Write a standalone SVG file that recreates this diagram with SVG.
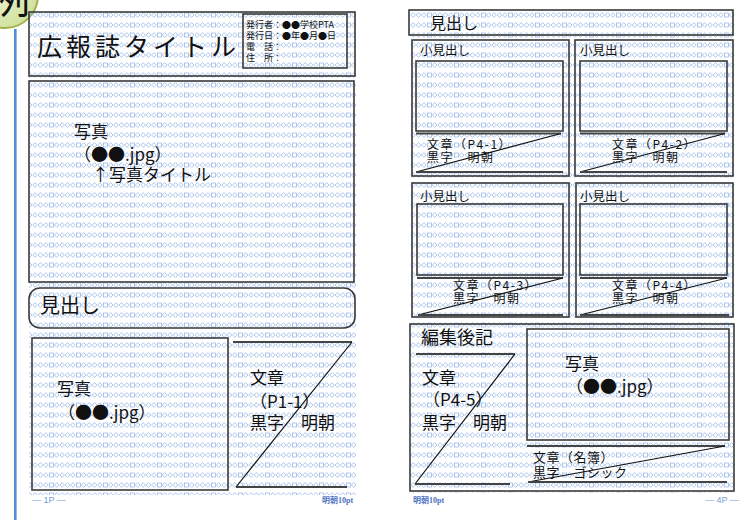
<svg xmlns="http://www.w3.org/2000/svg" width="748" height="520" viewBox="0 0 748 520">
<style>
.jp{font-family:"Noto Sans CJK JP","Noto Sans",sans-serif;fill:#111}
.box{fill:none;stroke:#3a3a3a;stroke-width:1.6}
.hl{stroke:#444;stroke-width:1.8;fill:none}
.dg{stroke:#111;stroke-width:1.2;fill:none}
.ft{font-family:"Liberation Sans",sans-serif;font-size:9px;fill:#7a9bd4}
.fm{font-family:"Liberation Serif","Noto Sans CJK JP",serif;font-size:8px;fill:#4f72c4;font-weight:bold}
</style>
<defs>
<pattern id="grid" patternUnits="userSpaceOnUse" x="0" y="0" width="27" height="10">
<g fill="none" stroke="#94b4e6" stroke-width="0.75">
<path d="M0.4,5 L2.7,2.6 L5,5 L2.7,7.4 Z"/>
<path d="M5.8,5 L8.1,2.6 L10.4,5 L8.1,7.4 Z"/>
<path d="M11.2,5 L13.5,2.6 L15.8,5 L13.5,7.4 Z"/>
<path d="M16.6,5 L18.9,2.6 L21.2,5 L18.9,7.4 Z"/>
<rect x="22.4" y="3" width="4" height="4"/>
</g>
</pattern>
<radialGradient id="bg" cx="0.3" cy="0.3" r="0.8">
<stop offset="0" stop-color="#f4f8e0"/>
<stop offset="1" stop-color="#cfe09a"/>
</radialGradient>
</defs>
<rect width="748" height="520" fill="#fff"/>
<g id="badge">
<rect x="14" y="29" width="2.6" height="491" fill="#4f8fd8"/>
<circle cx="5" cy="-5" r="33" fill="url(#bg)" stroke="#a2b04c" stroke-width="2"/>
<text class="jp" x="-10" y="13" font-size="40">例</text>
</g>
<g id="page-1">
<rect x="29" y="11" width="327" height="484" fill="url(#grid)"/>
<g id="title">
<rect class="box" x="29" y="12" width="326" height="64"/>
<text class="jp" x="37" y="56" font-size="25" letter-spacing="4">広報誌タイトル</text>
<rect class="box" x="243" y="14" width="104" height="54" stroke-width="1.3"/>
<g class="jp" font-size="9">
<text x="246" y="28">発行者：●●学校PTA</text>
<text x="246" y="39">発行日：●年●月●日</text>
<text x="246" y="50">電　話：</text>
<text x="246" y="61">住　所：</text>
</g>
</g>
<g id="photo-main">
<rect class="box" x="29" y="81" width="325" height="201"/>
<g class="jp" font-size="17">
<text x="74" y="138">写真</text>
<text x="74" y="161">（●●.jpg）</text>
<text x="92" y="181">↑写真タイトル</text>
</g>
</g>
<g id="heading-1">
<rect class="box" x="29" y="288" width="326" height="40" rx="11"/>
<text class="jp" x="40" y="313" font-size="20">見出し</text>
</g>
<g id="photo-2">
<rect class="box" x="32" y="338" width="196" height="152"/>
<g class="jp" font-size="17">
<text x="57" y="395">写真</text>
<text x="58" y="419">（●●.jpg）</text>
</g>
</g>
<g id="text-p1-1">
<line class="hl" x1="233" y1="342" x2="352" y2="342"/>
<line class="dg" x1="352" y1="342" x2="236" y2="487"/>
<line class="hl" x1="236" y1="487" x2="347" y2="487"/>
<g class="jp" font-size="17">
<text x="250" y="384">文章</text>
<text x="250" y="408">（P1-1）</text>
<text x="250" y="429">黒字　明朝</text>
</g>
</g>
<text class="ft" x="32" y="503">— 1P —</text>
<text class="fm" x="322" y="503">明朝10pt</text>
</g>
<g id="page-4">
<rect x="410" y="9" width="325" height="484" fill="url(#grid)"/>
<g id="heading-4">
<rect class="box" x="409" y="10" width="324" height="25"/>
<text class="jp" x="430" y="29" font-size="16">見出し</text>
</g>
<g id="section-1">
<rect class="box" x="412" y="40" width="157" height="136"/>
<text class="jp" x="420" y="54.5" font-size="12.5">小見出し</text>
<rect class="box" x="416" y="61" width="147" height="70"/>
<line class="hl" x1="416" y1="133.5" x2="561" y2="133.5"/>
<line class="dg" x1="561" y1="133.5" x2="416" y2="172"/>
<line class="hl" x1="416" y1="172" x2="563" y2="172"/>
<g class="jp" font-size="12" letter-spacing="1.5"><text x="427" y="149">文章（P4-1）</text><text x="427" y="162">黒字　明朝</text></g>
</g>
<g id="section-2">
<rect class="box" x="575" y="40" width="158" height="136"/>
<text class="jp" x="580" y="54.5" font-size="12.5">小見出し</text>
<rect class="box" x="580" y="61" width="147" height="70"/>
<line class="hl" x1="580" y1="133.5" x2="725" y2="133.5"/>
<line class="dg" x1="725" y1="133.5" x2="580" y2="172"/>
<line class="hl" x1="580" y1="172" x2="727" y2="172"/>
<g class="jp" font-size="12" letter-spacing="1.5"><text x="612" y="149">文章（P4-2）</text><text x="612" y="162">黒字　明朝</text></g>
</g>
<g id="section-3">
<rect class="box" x="412" y="183" width="157" height="134"/>
<text class="jp" x="420" y="200.5" font-size="12.5">小見出し</text>
<rect class="box" x="417" y="204" width="146" height="71"/>
<line class="hl" x1="417" y1="278" x2="563" y2="278"/>
<line class="dg" x1="563" y1="278" x2="418" y2="315"/>
<line class="hl" x1="418" y1="315" x2="563" y2="315"/>
<g class="jp" font-size="12" letter-spacing="1.5"><text x="453" y="290">文章（P4-3）</text><text x="453" y="303">黒字　明朝</text></g>
</g>
<g id="section-4">
<rect class="box" x="576" y="183" width="157" height="134"/>
<text class="jp" x="580" y="200.5" font-size="12.5">小見出し</text>
<rect class="box" x="580" y="204" width="147" height="71"/>
<line class="hl" x1="580" y1="278" x2="727" y2="278"/>
<line class="dg" x1="727" y1="278" x2="580" y2="315"/>
<line class="hl" x1="580" y1="315" x2="729" y2="315"/>
<g class="jp" font-size="12" letter-spacing="1.5"><text x="612" y="290">文章（P4-4）</text><text x="612" y="303">黒字　明朝</text></g>
</g>
<g id="editorial">
<rect class="box" x="410" y="324" width="324" height="167"/>
<text class="jp" x="421" y="343.5" font-size="18">編集後記</text>
<line class="hl" x1="416" y1="354" x2="515" y2="354"/>
<line class="dg" x1="515" y1="354" x2="415" y2="484"/>
<line class="hl" x1="415" y1="484" x2="510" y2="484"/>
<g class="jp" font-size="17">
<text x="422" y="383.5">文章</text>
<text x="423" y="405.5">（P4-5）</text>
<text x="422" y="428.5">黒字　明朝</text>
</g>
<rect class="box" x="527" y="329" width="202" height="111"/>
<g class="jp" font-size="17">
<text x="565" y="369.5">写真</text>
<text x="566" y="392.5">（●●.jpg）</text>
</g>
<line class="hl" x1="527" y1="446" x2="725" y2="446"/>
<line class="dg" x1="725" y1="446" x2="528" y2="482"/>
<line class="hl" x1="528" y1="482" x2="727" y2="482"/>
<g class="jp" font-size="13" letter-spacing="0.5"><text x="533" y="462">文章（名簿）</text><text x="533" y="477">黒字　ゴシック</text></g>
</g>
<text class="fm" x="413" y="503">明朝10pt</text>
<text class="ft" x="705" y="503">— 4P —</text>
</g>
</svg>
